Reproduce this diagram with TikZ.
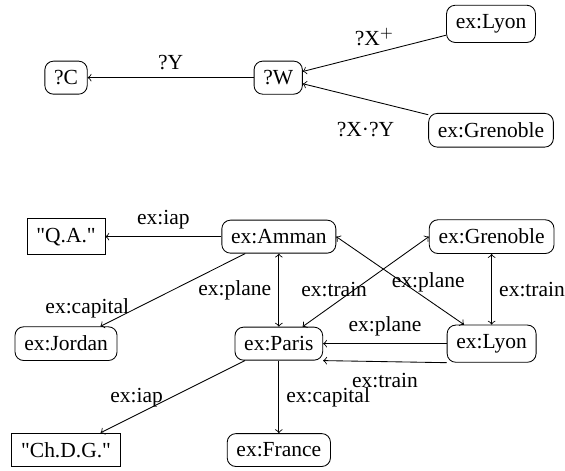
\documentclass[tikz,border=0pt]{standalone}
\usepackage{fontspec}
\newfontfamily\timesfont{Liberation Serif}
\usepackage{tikz}
\usetikzlibrary{positioning}

\begin{document}
\begin{tikzpicture}[font=\timesfont,
        res/.style={draw, rounded corners=4pt, inner sep=4.3pt},
        lit/.style={draw, inner sep=4.3pt}]
        \useasboundingbox (0, 0) rectangle (9.24, -7.7);

        % query
        \node[res] (c) at (1.08, -1.27) {?C};
        \node[res] (w) at (4.55, -1.27) {?W};
        \node[res] (lyonq) at (8.03, -.39) {ex:Lyon};
        \node[res] (grenobleq) at (8.03, -2.13) {ex:Grenoble};

        % graph
        \node[lit] (qa) at (1.08, -3.87) {"Q.A."};
        \node[res] (amman) at (4.56, -3.87) {ex:Amman};
        \node[res] (grenoble) at (8.04, -3.87) {ex:Grenoble};
        \node[res] (jordan) at (1.08, -5.62) {ex:Jordan};
        \node[res] (paris) at (4.56, -5.62) {ex:Paris};
        \node[res] (lyon) at (8.04, -5.62) {ex:Lyon};
        \node[lit] (chdg) at (1.08, -7.36) {"Ch.D.G."};
        \node[res] (france) at (4.56, -7.36) {ex:France};

        \draw[->] (w) to node[midway, above] {?Y} (c);
        \draw[->] (lyonq) to node[midway, above] {?X$^{+}$} (w);
        \draw[->] (grenobleq) to node[midway, below=7pt] {?X·?Y} (w);

        \draw[->] (amman) to node[midway, above] {ex:iap} (qa);
        \draw[->] (amman) to node[near end, left] {ex:capital} (jordan);
        \draw[<->] (amman) to node[midway, left] {ex:plane} (paris);
        \draw[<->] (paris) to node[near start, above] {ex:train} (grenoble.west);
        \draw[<->] (amman.east) to node[pos=.72, above] {ex:plane} (lyon);
        \draw[<->] (grenoble) to node[midway, right] {ex:train} (lyon);
        \draw[->] (lyon) to node[midway, above] {ex:plane} (paris);
        \draw[->] (lyon.south west) to node[midway, below=2pt] {ex:train} (paris.south east);
        \draw[->] (paris) to node[near end, above] {ex:iap} (chdg);
        \draw[->] (paris) to node[midway, right] {ex:capital} (france);
\end{tikzpicture}
\end{document}
